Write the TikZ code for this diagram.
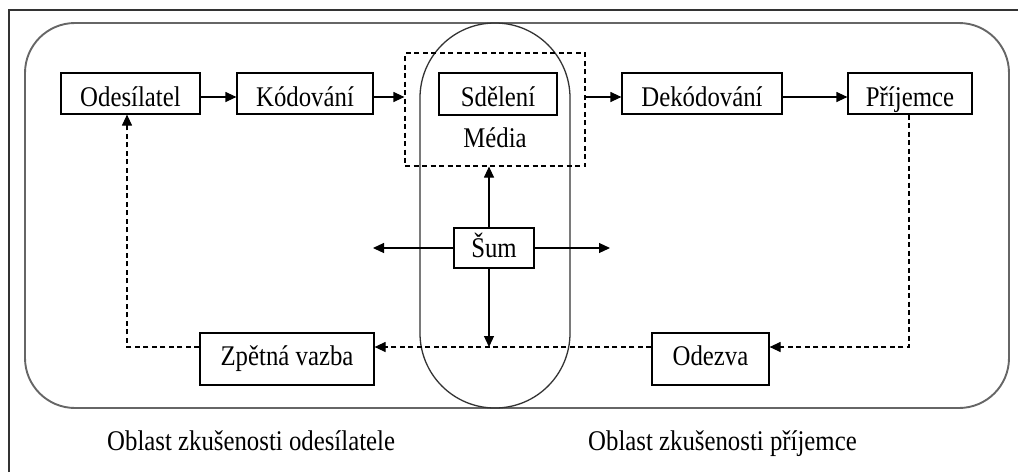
\documentclass[tikz,border=0pt]{standalone}
\usepackage{fontspec}
\setmainfont{Liberation Serif}[FakeStretch=0.87]
\usetikzlibrary{arrows.meta,calc}
\begin{document}
\begin{tikzpicture}[x=1pt,y=-1pt,
  txt/.style={font=\fontsize{28.5}{32}\selectfont, inner sep=0pt},
  box/.style={txt, draw, line width=1.2pt, minimum height=41pt, text height=25pt, text depth=0pt},
  arr/.style={-{Triangle[length=11pt,width=10pt]}, line width=1.2pt},
  dsh/.style={dash pattern=on 5pt off 3.5pt, line width=1.2pt}]
\useasboundingbox (0,0) rectangle (1018,472);
% frames
\draw[line width=1.3pt, black!80] (9,472) -- (9,10) -- (1018,10);
\draw[black!60, line width=1.9pt, rounded corners=50pt] (25,23) rectangle (1009,408);
\draw[black!80, line width=1.3pt, rounded corners=74.9pt] (420,23) rectangle (570,408);
% nodes
\node[box, minimum width=139pt] (ode) at (130.5,93.5) {Odesílatel};
\node[box, minimum width=136pt] (kod) at (305,93.5) {Kódování};
\node[draw, dsh, minimum width=180pt, minimum height=113pt, inner sep=0pt] (med) at (495,109.5) {};
\node[box, minimum width=118pt, minimum height=42pt] (sdel) at (498,94) {Sdělení};
\node[txt, anchor=base] (media) at (495,147) {Média};
\node[box, minimum width=160pt] (dek) at (702,93.5) {Dekódování};
\node[box, minimum width=124pt] (prij) at (910,93.5) {Příjemce};
\node[box, minimum width=80pt, minimum height=40pt, text height=18pt] (sum) at (494,248) {Šum};
\node[box, minimum width=174pt, minimum height=52pt, text height=18pt, text depth=6pt] (zpet) at (287,359) {Zpětná vazba};
\node[box, minimum width=117pt, minimum height=52pt, text height=18pt, text depth=6pt] (odez) at (710.5,359) {Odezva};
\node[txt, anchor=base west] (la) at (107,450) {Oblast zkušenosti odesílatele};
\node[txt, anchor=base west] (lb) at (588,450) {Oblast zkušenosti příjemce};
% helper coordinates
\coordinate (r1) at (0,97);
\coordinate (r2) at (0,347);
\coordinate (px) at (909,0);
\coordinate (qx) at (127,0);
\coordinate (sx) at (489,0);
\coordinate (sl) at (373,248);
\coordinate (sr) at (610,248);
% connectors
\draw[arr] (ode.east |- r1) -- (kod.west |- r1);
\draw[arr] (kod.east |- r1) -- (med.west |- r1);
\draw[arr] (med.east |- r1) -- (dek.west |- r1);
\draw[arr] (dek.east |- r1) -- (prij.west |- r1);
\draw[dsh, arr] (prij.south -| px) -- (px |- r2) -- (odez.east |- r2);
\draw[dsh, arr] (odez.west |- r2) -- (zpet.east |- r2);
\draw[dsh, arr] (zpet.west |- r2) -- (qx |- r2) -- (ode.south -| qx);
\draw[arr] (sum.north -| sx) -- (med.south -| sx);
\draw[arr] (sum.south -| sx) -- (sx |- r2);
\draw[arr] (sum.west) -- (sl);
\draw[arr] (sum.east) -- (sr);
\end{tikzpicture}
\end{document}
